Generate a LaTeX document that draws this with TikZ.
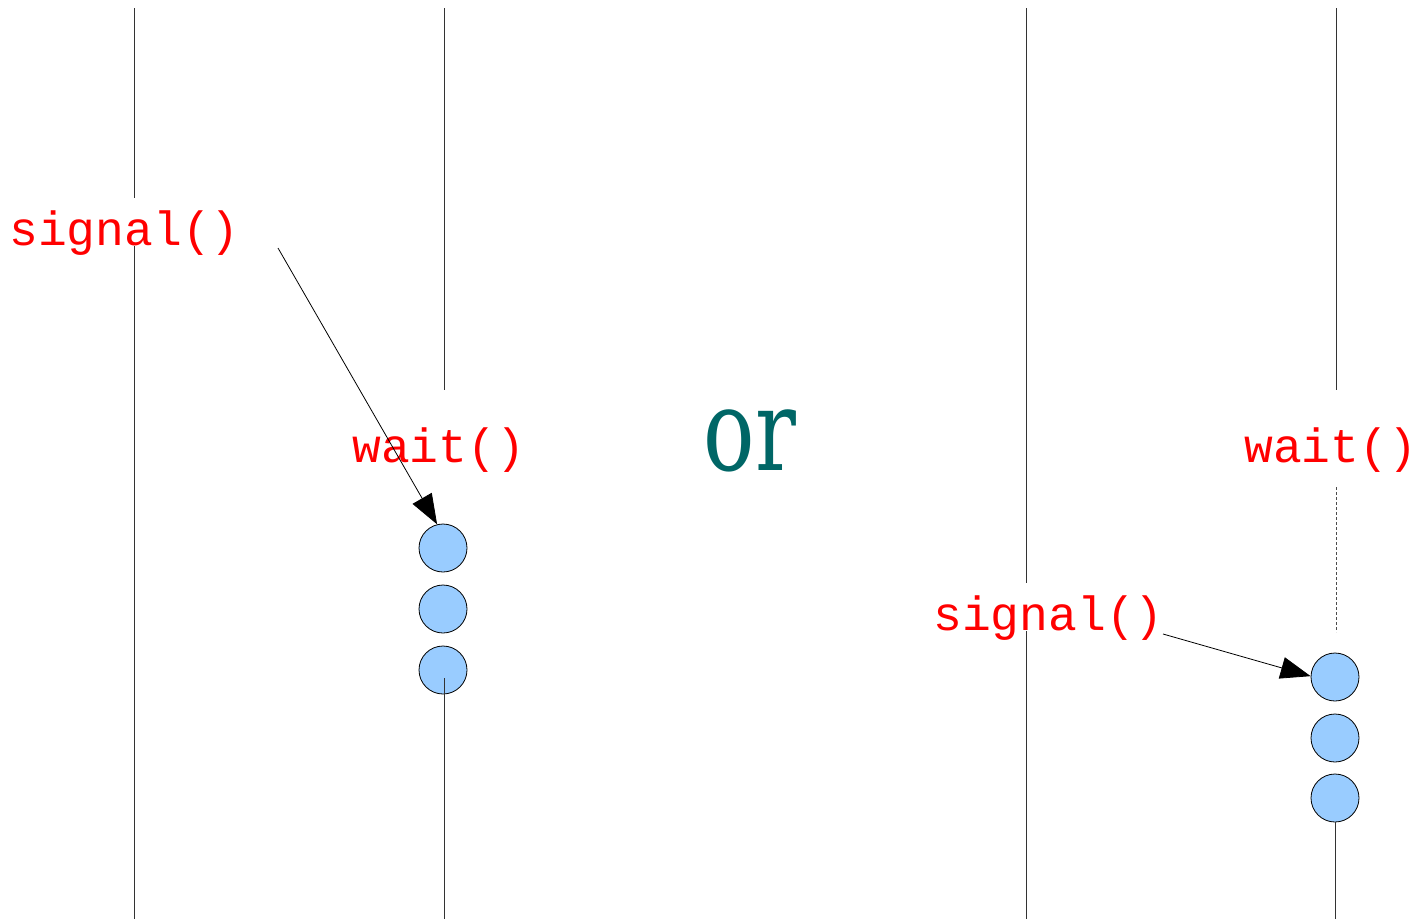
\documentclass[tikz,border=0pt]{standalone}
\usepackage{fontspec}
\setmonofont{Liberation Mono}
\newfontfamily\orfont{DejaVu Serif}
\usepackage{xcolor}
\usetikzlibrary{arrows.meta}
\definecolor{callred}{RGB}{255,0,0}
\definecolor{orteal}{RGB}{0,102,102}
\definecolor{tokblue}{RGB}{153,204,255}
\begin{document}
\begin{tikzpicture}[x=1pt, y=-1pt,
  life/.style={draw=black!80, line width=1pt},
  call/.style={font=\ttfamily\fontsize{48}{56}\selectfont, text=callred, anchor=base west, inner sep=0pt},
  gapcall/.style={call, fill=white, text height=47pt, text depth=1pt},
  tok/.style={circle, draw, line width=0.8pt, fill=tokblue, minimum size=48pt, inner sep=0pt},
  arr/.style={-{Triangle[length=30pt, width=22pt]}, line width=0.8pt}]
\useasboundingbox (0,0) rectangle (1419,919);
% lifelines
\coordinate (la-top) at (134,8);
\coordinate (la-bot) at (134,919);
\coordinate (lb-top) at (444,8);
\coordinate (lb-end) at (444,390);
\coordinate (lb-low) at (444,678);
\coordinate (lb-bot) at (444,919);
\coordinate (ra-top) at (1026,8);
\coordinate (ra-bot) at (1026,919);
\coordinate (rb-top) at (1336,8);
\coordinate (rb-end) at (1336,390);
\coordinate (rb-dash) at (1336,487);
\coordinate (rb-wait) at (1336,632);
\coordinate (rb-bot) at (1336,919);
\draw[life] (la-top) -- (la-bot);
\draw[life] (lb-top) -- (lb-end);
\draw[life] (ra-top) -- (ra-bot);
\draw[life] (rb-top) -- (rb-end);
\draw[life, draw=black!70, dash pattern=on 3pt off 2pt] (rb-dash) -- (rb-wait);
% left case
\node[gapcall] (sigA) at (9,245) {signal()};
\node[call] (waitA) at (352,462) {wait()};
\node[tok] (l1) at (443,548) {};
\node[tok] (l2) at (443,609) {};
\node[tok] (l3) at (443,670) {};
\draw[life] (lb-low) -- (lb-bot);
\coordinate (sigA-out) at (278,248);
\draw[arr] (sigA-out) -- (l1.104);
\node[font=\orfont\fontsize{114}{120}\selectfont, text=orteal, anchor=base, inner sep=0pt] (or) at (750,470) {\scalebox{0.75}[1]{or}};
% right case
\node[gapcall] (sigB) at (933,630) {signal()};
\node[call] (waitB) at (1244,462) {wait()};
\node[tok] (r1) at (1335,677) {};
\node[tok] (r2) at (1335,738) {};
\node[tok] (r3) at (1335,798) {};
\draw[life] (r3.south) -- (r3.south |- rb-bot);
\coordinate (sigB-out) at (1163,634);
\draw[arr] (sigB-out) -- (r1.178);
\end{tikzpicture}
\end{document}
